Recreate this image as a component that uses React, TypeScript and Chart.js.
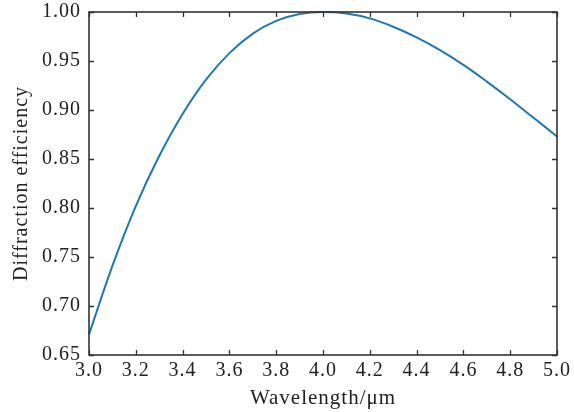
import { useEffect, useRef } from "react";
import { Chart, registerables } from "chart.js";

Chart.register(...registerables);

const wavelengths = [3.0, 3.1, 3.2, 3.3, 3.4, 3.5, 3.6, 3.7, 3.8, 3.9, 4.0, 4.1, 4.2, 4.3, 4.4, 4.5, 4.6, 4.7, 4.8, 4.9, 5.0];
const efficiency = [0.671, 0.741, 0.802, 0.853, 0.896, 0.931, 0.958, 0.978, 0.991, 0.998, 1.0, 0.9985, 0.9935, 0.985, 0.974, 0.961, 0.946, 0.929, 0.911, 0.892, 0.873];
const xTickValues = [3.0, 3.2, 3.4, 3.6, 3.8, 4.0, 4.2, 4.4, 4.6, 4.8, 5.0];
const yTickValues = [0.65, 0.7, 0.75, 0.8, 0.85, 0.9, 0.95, 1.0];

const FONT = "'Liberation Serif', 'Times New Roman', serif";
const TEXT = "#222222";
const FRAME = "#333333";

const spacing = {
  id: "spacing",
  beforeUpdate(chart: any) {
    chart.ctx.letterSpacing = "1px";
  },
  beforeDraw(chart: any) {
    chart.ctx.letterSpacing = "1px";
  },
};

const frameTicks = {
  id: "frameTicks",
  afterDraw(chart: any) {
    const { ctx, chartArea, scales } = chart;
    const { left, right, top, bottom } = chartArea;
    const xs = scales.x;
    const ys = scales.y;
    ctx.save();
    ctx.strokeStyle = FRAME;
    ctx.lineWidth = 1.3;
    const len = 5;
    ctx.beginPath();
    xTickValues.forEach((v) => {
      const p = Math.round(xs.getPixelForValue(v)) + 0.5;
      ctx.moveTo(p, bottom);
      ctx.lineTo(p, bottom - len);
      ctx.moveTo(p, top);
      ctx.lineTo(p, top + len);
    });
    yTickValues.forEach((v) => {
      const p = Math.round(ys.getPixelForValue(v)) + 0.5;
      ctx.moveTo(left, p);
      ctx.lineTo(left + len, p);
      ctx.moveTo(right, p);
      ctx.lineTo(right - len, p);
    });
    ctx.stroke();
    ctx.lineWidth = 1.6;
    ctx.strokeRect(left, top, right - left, bottom - top);
    ctx.restore();
  },
};

export default function App() {
  const ref = useRef<HTMLCanvasElement | null>(null);

  useEffect(() => {
    if (!ref.current) return;
    const chart = new Chart(ref.current, {
      type: "line",
      data: {
        datasets: [
          {
            data: wavelengths.map((w, i) => ({ x: w, y: efficiency[i] })),
            borderColor: "#1f77b4",
            borderWidth: 2,
            pointRadius: 0,
            tension: 0.35,
            fill: false,
            clip: 4,
          },
        ],
      },
      options: {
        responsive: false,
        animation: false,
        layout: { padding: { left: 0, right: 17, top: 12, bottom: 0 } },
        plugins: { legend: { display: false }, tooltip: { enabled: false } },
        scales: {
          x: {
            type: "linear",
            min: 3.0,
            max: 5.0,
            afterBuildTicks: (scale: any) => {
              scale.ticks = xTickValues.map((v) => ({ value: v }));
            },
            afterFit: (scale: any) => {
              scale.height = 57;
              scale.paddingLeft = 0;
              scale.paddingRight = 0;
            },
            grid: { display: false, drawTicks: false },
            border: { display: false },
            ticks: {
              callback: (v: any) => Number(v).toFixed(1),
              font: { family: FONT, size: 20 },
              color: TEXT,
              padding: 4,
              maxRotation: 0,
            },
            title: {
              display: true,
              text: "Wavelength/μm",
              font: { family: FONT, size: 21 },
              color: TEXT,
              padding: { top: 0, bottom: 1 },
            },
          },
          y: {
            type: "linear",
            min: 0.65,
            max: 1.0,
            afterBuildTicks: (scale: any) => {
              scale.ticks = yTickValues.map((v) => ({ value: v }));
            },
            afterFit: (scale: any) => {
              scale.width = 89;
              scale.paddingTop = 0;
              scale.paddingBottom = 0;
            },
            grid: { display: false, drawTicks: false },
            border: { display: false },
            ticks: {
              callback: (v: any) => Number(v).toFixed(2),
              font: { family: FONT, size: 20 },
              color: TEXT,
              padding: 8,
            },
            title: {
              display: true,
              text: "Diffraction efficiency",
              font: { family: FONT, size: 20 },
              color: TEXT,
              padding: { top: 10, bottom: 0 },
            },
          },
        },
      },
      plugins: [spacing, frameTicks],
    });
    return () => chart.destroy();
  }, []);

  return (
    <div style={{ position: "absolute", left: 0, top: 0, width: 574, height: 412, background: "#fff" }}>
      <canvas ref={ref} width={574} height={412} />
    </div>
  );
}
